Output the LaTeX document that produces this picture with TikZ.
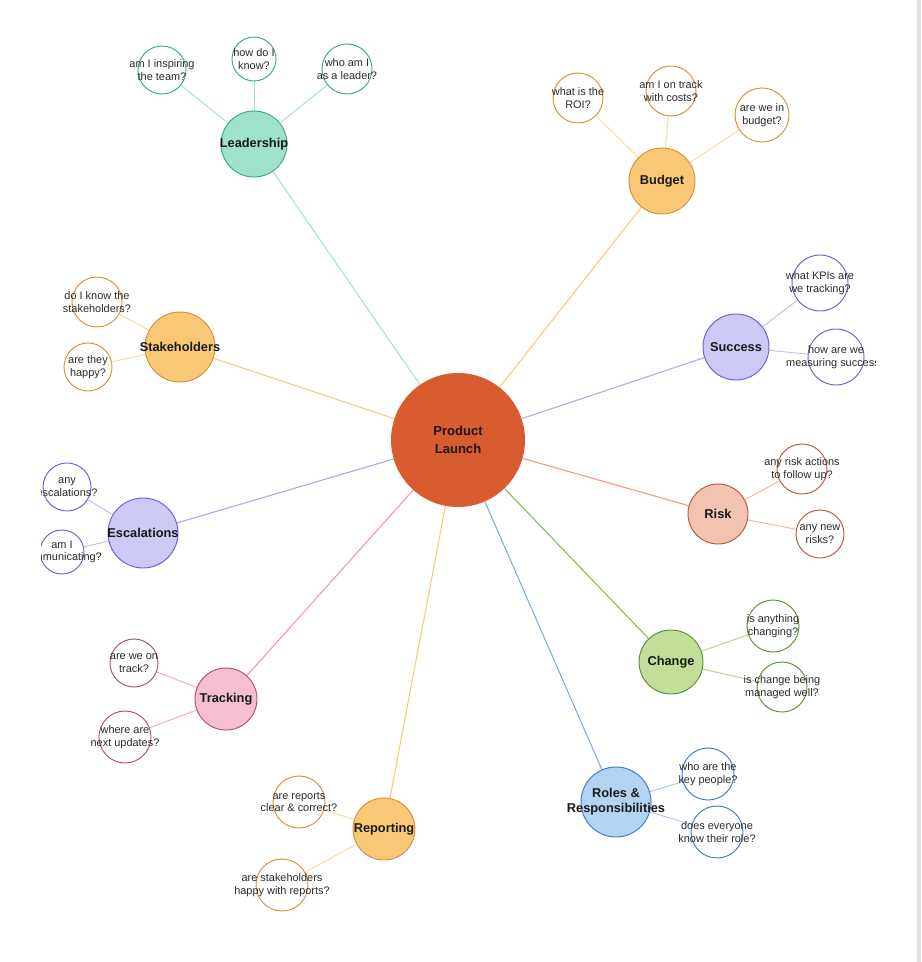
\documentclass[tikz,border=0pt]{standalone}
\usepackage{fontspec}
\setmainfont{Liberation Sans}
\usepackage{tikz}
\usetikzlibrary{backgrounds}
\definecolor{hubred}{HTML}{D95B30}
\definecolor{mintfill}{HTML}{9FE2CB}
\definecolor{mintdraw}{HTML}{3DA77F}
\definecolor{mintline}{HTML}{A5E3CE}
\definecolor{amberfill}{HTML}{F9C877}
\definecolor{amberdraw}{HTML}{D4913A}
\definecolor{amberline}{HTML}{F8CC80}
\definecolor{lilacfill}{HTML}{CCC9F4}
\definecolor{lilacdraw}{HTML}{6A5ED0}
\definecolor{lilacline}{HTML}{AFA7EE}
\definecolor{salmonfill}{HTML}{F3C3B2}
\definecolor{salmondraw}{HTML}{B05A3E}
\definecolor{salmonline}{HTML}{F09A80}
\definecolor{leaffill}{HTML}{C2DE98}
\definecolor{leafdraw}{HTML}{5C8F35}
\definecolor{leafline}{HTML}{86BC52}
\definecolor{pinkfill}{HTML}{F4BFD3}
\definecolor{pinkdraw}{HTML}{AE4F77}
\definecolor{pinkline}{HTML}{EC9AB8}
\definecolor{skyfill}{HTML}{B3D3F3}
\definecolor{skydraw}{HTML}{3C7BC8}
\definecolor{skyline}{HTML}{7AAEEA}
\definecolor{inkgray}{HTML}{2B2B2B}
\tikzset{
  hub/.style={circle,fill=hubred,inner sep=0pt,minimum size=134*0.75pt,
    font=\bfseries\fontsize{9.8}{13.2}\selectfont,text=black!90,align=center},
  topic/.style={circle,inner sep=0pt,line width=0.7pt,minimum size=#1*1.5pt},
  topic/.default=33,
  ask/.style={circle,fill=white,inner sep=0pt,line width=0.7pt,minimum size=#1*1.5pt},
  ask/.default=25,
  toptext/.style={font=\bfseries\fontsize{9.6}{11.2}\selectfont,text=black!90,align=center},
  asktext/.style={font=\fontsize{8.2}{9.3}\selectfont,text=inkgray,align=center},
  spoke/.style={line width=0.8pt},
  twig/.style={line width=0.7pt}
}

\begin{document}
\begin{tikzpicture}[x=0.75pt,y=-0.75pt,
  mint/.style={fill=mintfill,draw=mintdraw},
  amber/.style={fill=amberfill,draw=amberdraw},
  lilac/.style={fill=lilacfill,draw=lilacdraw},
  salmon/.style={fill=salmonfill,draw=salmondraw},
  leaf/.style={fill=leaffill,draw=leafdraw},
  pinky/.style={fill=pinkfill,draw=pinkdraw},
  sky/.style={fill=skyfill,draw=skydraw}
]
\useasboundingbox (0,0) rectangle (921,962);
\begin{scope}[on background layer]
  \fill[white] (0,0) rectangle (921,962);
\end{scope}
\fill[gray!22] (917,0) rectangle (921,962);

\begin{scope}
\clip (41,0) rectangle (875,962);

% centre
\node[hub] (launch) at (458,440) {Product\\Launch};

% main topics
\node[topic,mint,label={[toptext]center:Leadership}] (lead) at (254,144) {};
\node[topic,amber,label={[toptext]center:Budget}] (budget) at (662,181) {};
\node[topic=35,amber,label={[toptext]center:Stakeholders}] (stake) at (180,347) {};
\node[topic,lilac,label={[toptext]center:Success}] (success) at (736,347) {};
\node[topic=35,lilac,label={[toptext]center:Escalations}] (escal) at (143,533) {};
\node[topic=30,salmon,label={[toptext]center:Risk}] (risk) at (718,514) {};
\node[topic=32,leaf,label={[toptext]center:Change}] (change) at (671,662) {};
\node[topic=31,pinky,label={[toptext]center:Tracking}] (track) at (226,699) {};
\node[topic=31,amber,label={[toptext]center:Reporting}] (report) at (384,829) {};
\node[topic=35,sky,label={[toptext]center:Roles \&\\Responsibilities}] (roles) at (616,802) {};

% questions
\node[ask=24,draw=mintdraw,label={[asktext]center:am I inspiring\\the team?}] (lead1) at (162,70) {};
\node[ask=22,draw=mintdraw,label={[asktext]center:how do I\\know?}] (lead2) at (254,59) {};
\node[ask,draw=mintdraw,label={[asktext]center:who am I\\as a leader?}] (lead3) at (347,69) {};

\node[ask,draw=amberdraw,label={[asktext]center:what is the\\ROI?}] (budget1) at (578,98) {};
\node[ask,draw=amberdraw,label={[asktext]center:am I on track\\with costs?}] (budget2) at (671,91) {};
\node[ask=27,draw=amberdraw,label={[asktext]center:are we in\\budget?}] (budget3) at (762,115) {};

\node[ask,draw=amberdraw,label={[asktext]center:do I know the\\stakeholders?}] (stake1) at (97,302) {};
\node[ask=24,draw=amberdraw,label={[asktext]center:are they\\happy?}] (stake2) at (88,367) {};

\node[ask=28,draw=lilacdraw,label={[asktext]center:what KPIs are\\we tracking?}] (success1) at (820,283) {};
\node[ask=28,draw=lilacdraw,label={[asktext]center:how are we\\measuring success?}] (success2) at (836,357) {};

\node[ask=24,draw=lilacdraw,label={[asktext]center:any\\escalations?}] (escal1) at (67,487) {};
\node[ask=22,draw=lilacdraw,label={[asktext]center:am I\\communicating?}] (escal2) at (62,552) {};

\node[ask,draw=salmondraw,label={[asktext]center:any risk actions\\to follow up?}] (risk1) at (802,469) {};
\node[ask=24,draw=salmondraw,label={[asktext]center:any new\\risks?}] (risk2) at (820,534) {};

\node[ask=26,draw=leafdraw,label={[asktext]center:is anything\\changing?}] (change1) at (773,626) {};
\node[ask,draw=leafdraw,label={[asktext]center:is change being\\managed well?}] (change2) at (782,687) {};

\node[ask=24,draw=pinkdraw,label={[asktext]center:are we on\\track?}] (track1) at (134,663) {};
\node[ask=26,draw=pinkdraw,label={[asktext]center:where are\\next updates?}] (track2) at (125,737) {};

\node[ask=26,draw=skydraw,label={[asktext]center:who are the\\key people?}] (roles1) at (708,774) {};
\node[ask=26,draw=skydraw,label={[asktext]center:does everyone\\know their role?}] (roles2) at (717,832) {};

\node[ask=26,draw=amberdraw,label={[asktext]center:are reports\\clear \& correct?}] (report1) at (299,802) {};
\node[ask=26,draw=amberdraw,label={[asktext]center:are stakeholders\\happy with reports?}] (report2) at (282,885) {};
\end{scope}

\begin{scope}[on background layer]
  \draw[spoke,mintline] (launch) -- (lead);
  \draw[spoke,amberline] (launch) -- (budget);
  \draw[spoke,amberline] (launch) -- (stake);
  \draw[spoke,lilacline] (launch) -- (success);
  \draw[spoke,lilacline] (launch) -- (escal);
  \draw[spoke,salmonline] (launch) -- (risk);
  \draw[spoke,leafline] (launch) -- (change);
  \draw[spoke,pinkline] (launch) -- (track);
  \draw[spoke,amberline] (launch) -- (report);
  \draw[spoke,skyline] (launch) -- (roles);

  \foreach \k in {1,2,3} {
    \draw[twig,mintline] (lead) -- (lead\k);
    \draw[twig,amberline!75] (budget) -- (budget\k);
  }
  \foreach \k in {1,2} {
    \draw[twig,amberline!75] (stake) -- (stake\k);
    \draw[twig,lilacline!75] (success) -- (success\k);
    \draw[twig,lilacline!75] (escal) -- (escal\k);
    \draw[twig,salmonline!75] (risk) -- (risk\k);
    \draw[twig,leafline!65] (change) -- (change\k);
    \draw[twig,pinkline!85] (track) -- (track\k);
    \draw[twig,skyline!65] (roles) -- (roles\k);
    \draw[twig,amberline!75] (report) -- (report\k);
  }
\end{scope}
\end{tikzpicture}
\end{document}
